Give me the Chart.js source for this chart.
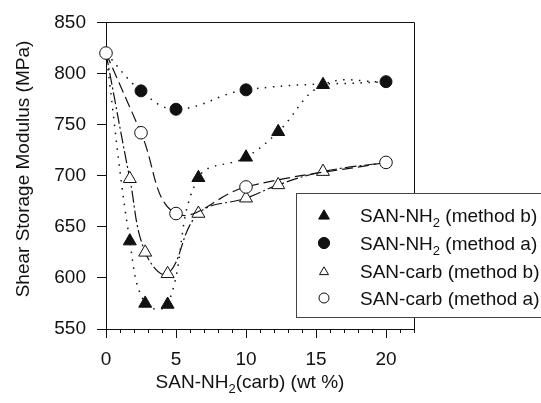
<!DOCTYPE html>
<html>
<head>
<meta charset="utf-8">
<script src="https://cdn.jsdelivr.net/npm/chart.js@4.4.0/dist/chart.umd.min.js"></script>
<style>
  html, body { margin: 0; padding: 0; background: #fff; }
  #wrap { width: 541px; height: 403px; }
</style>
</head>
<body>
<div id="wrap"><canvas id="modulusChart" width="541" height="403"></canvas></div>
<script>
// SAN-NH2 / SAN-carb content (wt %) vs shear storage modulus (MPa)
const nh2bX = [0, 1.7, 2.8, 4.4, 6.6, 10, 12.3, 15.5, 20];
const nh2bY = [820, 636, 575, 574, 698, 718, 743, 789, 792];
const nh2aX = [0, 2.5, 5, 10, 20];
const nh2aY = [820, 783, 765, 784, 792];
const carbBX = [0, 1.7, 2.8, 4.4, 6.6, 10, 12.3, 15.5, 20];
const carbBY = [820, 697, 625, 604, 663, 678, 691, 704, 713];
const carbAX = [0, 2.5, 5, 10, 20];
const carbAY = [820, 742, 663, 689, 713];

const xTicks = [0, 5, 10, 15, 20];
const yTicks = [550, 600, 650, 700, 750, 800, 850];
const xMax = 22;

const legendLabels = [
    "SAN-NH_2 (method b)",
    "SAN-NH_2 (method a)",
    "SAN-carb (method b)",
    "SAN-carb (method a)"
];
const xTitle = "SAN-NH_2(carb) (wt %)";
const yTitle = "Shear Storage Modulus (MPa)";

const INK = "#111";
const FONT = "Liberation Sans, Arial, sans-serif";

function toPoints(xs, ys) {
    return xs.map((x, i) => ({ x: x, y: ys[i] }));
}

// the start point at 0 wt% (and the shared end point) only gets drawn once
function radiusFor(r, count, hideFirst, hideLast) {
    return ctx => {
        if (hideFirst && ctx.dataIndex === 0) return 0;
        if (hideLast && ctx.dataIndex === count - 1) return 0;
        return r;
    };
}

// text with "_2" style subscripts
function drawRich(ctx, text, x, y, align) {
    const parts = text.split(/_(\d)/);
    const big = "19px " + FONT;
    const small = "13px " + FONT;
    let total = 0;
    parts.forEach((p, i) => {
        ctx.font = i % 2 ? small : big;
        total += ctx.measureText(p).width;
    });
    let cx = align === "center" ? x - total / 2 : x;
    ctx.textAlign = "left";
    parts.forEach((p, i) => {
        ctx.font = i % 2 ? small : big;
        ctx.fillText(p, cx, i % 2 ? y + 5 : y);
        cx += ctx.measureText(p).width;
    });
}

function drawMarker(ctx, style, filled, r, x, y) {
    ctx.beginPath();
    if (style === "triangle") {
        let rad = 0;
        for (let k = 0; k < 3; k++) {
            rad += Math.PI * 2 / 3;
            const px = x + Math.sin(rad) * r;
            const py = y - Math.cos(rad) * r;
            if (k === 0) ctx.moveTo(px, py); else ctx.lineTo(px, py);
        }
        ctx.closePath();
    } else {
        ctx.arc(x, y, r, 0, Math.PI * 2);
    }
    ctx.fillStyle = filled ? INK : "#fff";
    ctx.fill();
    ctx.lineWidth = 1;
    ctx.strokeStyle = INK;
    ctx.stroke();
}

const framePlugin = {
    id: "frame",
    afterDraw(chart) {
        const ctx = chart.ctx;
        const area = chart.chartArea;
        const xs = chart.scales.x;
        ctx.save();
        ctx.strokeStyle = INK;
        ctx.lineWidth = 1;

        // top and right frame
        ctx.beginPath();
        ctx.moveTo(Math.round(area.left), Math.round(area.top) + 0.5);
        ctx.lineTo(Math.round(area.right) + 0.5, Math.round(area.top) + 0.5);
        ctx.lineTo(Math.round(area.right) + 0.5, Math.round(area.bottom) + 4);
        ctx.stroke();

        // minor ticks on the x axis
        ctx.beginPath();
        for (let v = 1; v <= xMax; v++) {
            if (v % 5 === 0) continue;
            const px = Math.round(xs.getPixelForValue(v)) + 0.5;
            ctx.moveTo(px, area.bottom);
            ctx.lineTo(px, area.bottom + 4);
        }
        ctx.stroke();

        // axis titles
        ctx.fillStyle = INK;
        ctx.textBaseline = "alphabetic";
        drawRich(ctx, xTitle, 250, 388, "center");
        ctx.save();
        ctx.translate(24, 169);
        ctx.rotate(-Math.PI / 2);
        ctx.textBaseline = "middle";
        drawRich(ctx, yTitle, 0, 0, "center");
        ctx.restore();

        // legend box
        ctx.fillStyle = "#fff";
        ctx.fillRect(296.5, 193.5, 260, 124);
        ctx.strokeStyle = "#444";
        ctx.strokeRect(296.5, 193.5, 260, 124);

        const marks = [
            ["triangle", true, 6.2],
            ["circle", true, 5.6],
            ["triangle", false, 5.2],
            ["circle", false, 5]
        ];
        const rows = [215, 243, 271, 298];
        legendLabels.forEach((label, i) => {
            const m = marks[i];
            drawMarker(ctx, m[0], m[1], m[2], 324, rows[i] + (m[0] === "triangle" ? 1 : 0));
            ctx.fillStyle = INK;
            ctx.textBaseline = "alphabetic";
            drawRich(ctx, label, 360, rows[i] + 7, "left");
        });
        ctx.restore();
    }
};

const ctx = document.getElementById("modulusChart").getContext("2d");
const chart = new Chart(ctx, {
    type: "line",
    data: {
        datasets: [
            {
                label: "SAN-carb (method a)",
                data: toPoints(carbAX, carbAY),
                borderColor: INK,
                borderWidth: 1.2,
                borderDash: [11, 5],
                pointStyle: "circle",
                pointRadius: 6.3,
                pointBackgroundColor: "#fff",
                pointBorderColor: INK,
                pointBorderWidth: 1,
                tension: 0.4,
                clip: false
            },
            {
                label: "SAN-NH2 (method a)",
                data: toPoints(nh2aX, nh2aY),
                borderColor: INK,
                borderWidth: 1.5,
                borderDash: [1.5, 6.5],
                pointStyle: "circle",
                pointRadius: radiusFor(6, nh2aX.length, true, false),
                pointBackgroundColor: INK,
                pointBorderColor: INK,
                pointBorderWidth: 1,
                tension: 0.4,
                clip: false
            },
            {
                label: "SAN-carb (method b)",
                data: toPoints(carbBX, carbBY),
                borderColor: INK,
                borderWidth: 1.2,
                borderDash: [12, 3, 2, 3],
                pointStyle: "triangle",
                pointRadius: radiusFor(7.5, carbBX.length, true, true),
                pointBackgroundColor: "#fff",
                pointBorderColor: INK,
                pointBorderWidth: 1,
                tension: 0.4,
                clip: false
            },
            {
                label: "SAN-NH2 (method b)",
                data: toPoints(nh2bX, nh2bY),
                borderColor: INK,
                borderWidth: 1.5,
                borderDash: [1.5, 6.5],
                pointStyle: "triangle",
                pointRadius: radiusFor(7.5, nh2bX.length, true, true),
                pointBackgroundColor: INK,
                pointBorderColor: INK,
                pointBorderWidth: 1,
                tension: 0.4,
                clip: false
            }
        ]
    },
    options: {
        responsive: false,
        animation: false,
        layout: { padding: { left: 0, top: 18, right: 127, bottom: 0 } },
        plugins: {
            legend: { display: false },
            tooltip: { enabled: false }
        },
        scales: {
            x: {
                type: "linear",
                min: 0,
                max: xMax,
                afterFit: scale => { scale.height = 74; },
                border: { display: true, color: INK, width: 1 },
                grid: {
                    drawOnChartArea: false,
                    tickLength: 9,
                    color: c => (c.tick && c.tick.value % 5 === 0) ? INK : "rgba(0,0,0,0)"
                },
                ticks: {
                    stepSize: 1,
                    autoSkip: false,
                    maxRotation: 0,
                    padding: 10,
                    color: INK,
                    font: { family: FONT, size: 19 },
                    callback: v => xTicks.includes(v) ? String(v) : ""
                }
            },
            y: {
                min: yTicks[0],
                max: yTicks[yTicks.length - 1],
                afterFit: scale => { scale.width = 106; },
                border: { display: true, color: INK, width: 1 },
                grid: { drawOnChartArea: false, tickLength: 9, color: INK },
                ticks: {
                    stepSize: yTicks[1] - yTicks[0],
                    padding: 11,
                    color: INK,
                    font: { family: FONT, size: 19 }
                }
            }
        }
    },
    plugins: [framePlugin]
});
</script>
</body>
</html>
